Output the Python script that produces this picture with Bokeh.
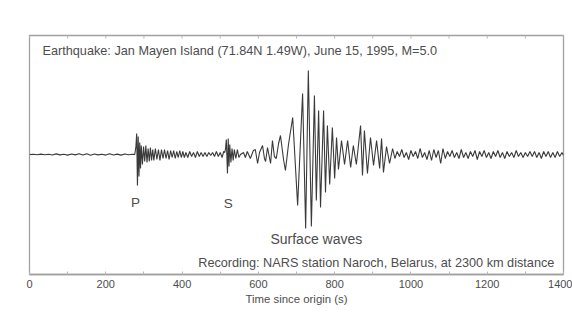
from bokeh.plotting import figure
from bokeh.models import Range1d, FixedTicker, Label
from bokeh.embed import file_html
from bokeh.resources import INLINE

# Seismogram turning points: time since origin (s), amplitude (arbitrary units)
time_s = [0, 10, 20, 30, 40, 50, 60, 70, 80, 90, 100, 110, 120, 130, 140, 150, 160, 170, 180, 190,
          200, 210, 220, 230, 240, 250, 260, 270, 276,
          279, 281, 283, 285, 287, 289, 291, 293, 296, 299, 302, 305, 308, 311, 314, 317, 320, 323,
          326, 330, 334, 338, 342, 346, 350, 354, 358, 362, 366, 370, 374, 378, 382, 386, 390, 394,
          398, 402, 406, 410, 415, 420, 425, 430, 435, 440, 445, 450, 455, 460, 465, 470, 475, 480,
          485, 490, 495, 500, 505, 509, 512,
          514, 516, 519, 521, 523, 525, 528, 531, 534, 537, 541, 545, 549, 553,
          561, 566, 571, 579, 587, 592, 598, 603, 611, 616, 619, 624, 632, 637, 642, 647, 653, 658,
          666, 671, 679, 690, 703, 716, 724, 731, 739, 747, 752, 758, 763, 771, 776, 781, 787, 794,
          800, 805, 810, 818, 826, 834, 842, 849, 857, 868, 873, 878, 886, 894, 902, 910, 918, 923,
          928, 936, 944, 952,
          958, 964, 970, 976, 982, 988, 994, 1000, 1006, 1012, 1018, 1024, 1030, 1036, 1042, 1048,
          1054, 1060, 1066, 1072, 1078, 1084, 1090, 1096, 1102, 1108, 1114, 1120, 1126, 1132, 1138,
          1144, 1150, 1156, 1162, 1168, 1174, 1180, 1186, 1192, 1198, 1204, 1210, 1216, 1222, 1228,
          1234, 1240, 1246, 1252, 1258, 1264, 1270, 1276, 1282, 1288, 1294, 1300, 1306, 1312, 1318,
          1324, 1330, 1336, 1342, 1348, 1354, 1360, 1366, 1372, 1378, 1384, 1390, 1396, 1400]
amplitude = [0, 0.3, -0.3, 0.4, -0.3, 0.2, -0.5, 0.6, -0.4, 0.3, -0.6, 0.5, -0.4, 0.7, -0.6, 0.8, -0.7, 0.5, -0.4, 0.3,
             -0.6, 0.7, -0.5, 0.4, -0.6, 0.5, -0.3, 0.3, 0,
             8, 21, -31, 18, -22, 12, -14, 9, -10, 8, -7, 9, -8, 6, -7, 7, -6, 5,
             -6, 6, -5, 5, -6, 5, -4, 5, -4, 4, -5, 4, -3, 4, -4, 3, -3, 4,
             -3, 3, -3, 2, -3, 3, -2, 2, -3, 3, -2, 2, -2, 2, -2, 2, -1, 2,
             -2, 3, -2, 2, -3, 3, 2,
             6, 15, -19, 16, -12, 10, -8, 6, -6, 5, -4, 5, -3, 0,
             2, -3, 3, -4, 4, 5, -9, 2, 9, -4, -7, 7, -9, 14, -2, -4, 11, 19,
             -5, -16, 10, 37, -51, 61, -74, 84, -72, 59, -46, 44, -53, 44, -38, 29, -30, 27,
             -24, 17, -15, 14, -10, 14, -13, 9, -10, 29, -21, 24, -19, 17, -11, 14, -14, 16,
             -18, 8, -9, 6,
             -4, 3, -2, 5, -3, 2, -5, 4, -2, 3, -4, 6, -3, 2, -5, 4,
             -6, 5, -3, 4, -9, 6, -4, 3, -2, 4, -3, 2, -4, 5, -3,
             2, -4, 3, -2, 4, -5, 3, -2, 4, -3, 2, -4, 3, -2, 4,
             -3, 2, -4, 3, -2, 2, -3, 4, -2, 2, -3, 2, -2, 3, -2,
             3, -3, 2, -4, 3, -2, 3, -3, 2, -3, 3, -2, 2, -1, 0]

tick_values = [0, 200, 400, 600, 800, 1000, 1200, 1400]
minor_tick_values = [100, 300, 500, 700, 900, 1100, 1300]

title_text = "Earthquake: Jan Mayen Island (71.84N 1.49W), June 15, 1995, M=5.0"
record_text = "Recording: NARS station Naroch, Belarus, at 2300 km distance"
x_title = "Time since origin (s)"

FONT = "Liberation Sans"
TXT = "#4d4d4d"
FRAME = "#a0a0a0"
Y_TOP = 119

p = figure(width=572, height=326, output_backend="svg", toolbar_location=None,
           x_range=Range1d(0, 1400), y_range=Range1d(-120, Y_TOP),
           min_border_left=29, min_border_right=9, min_border_top=35, min_border_bottom=52)
p.grid.visible = False
p.yaxis.visible = False
p.outline_line_color = FRAME
p.outline_line_width = 1.3
p.background_fill_color = "white"
p.border_fill_color = "white"

ticker = FixedTicker(ticks=tick_values, minor_ticks=minor_tick_values)
ax = p.xaxis[0]
ax.ticker = ticker
ax.axis_line_color = FRAME
ax.axis_line_width = 1.3
ax.major_tick_in = 3
ax.major_tick_out = 0
ax.minor_tick_in = 3
ax.minor_tick_out = 0
ax.major_tick_line_color = "#b8b8b8"
ax.minor_tick_line_color = "#b8b8b8"
ax.major_label_text_font = FONT
ax.major_label_text_font_size = "11px"
ax.major_label_text_color = TXT
ax.major_label_standoff = 5
ax.axis_label = x_title
ax.axis_label_text_font = FONT
ax.axis_label_text_font_size = "11.4px"
ax.axis_label_text_font_style = "normal"
ax.axis_label_text_color = TXT
ax.axis_label_standoff = 2

# inward ticks along the top edge of the frame, at the same tick values
all_ticks = sorted(tick_values + minor_tick_values)
p.segment(x0=all_ticks, x1=all_ticks, y0=[Y_TOP] * len(all_ticks), y1=[Y_TOP - 3] * len(all_ticks),
          line_color="#b8b8b8", line_width=1)

p.line(time_s, amplitude, line_color="#3a3a3a", line_width=1.1)

def lab(x, y, t, size, align="left"):
    p.add_layout(Label(x=x, y=y, text=t, text_font=FONT, text_font_size=size,
                       text_color=TXT, text_align=align, text_baseline="middle"))

lab(34, 104, title_text, "12.7px")
lab(278, -48, "P", "13.5px", "center")
lab(521, -49, "S", "13.5px", "center")
lab(752, -84, "Surface waves", "14px", "center")
lab(1376, -108, record_text, "12.7px", "right")

open("out.html", "w").write(file_html(p, INLINE))
